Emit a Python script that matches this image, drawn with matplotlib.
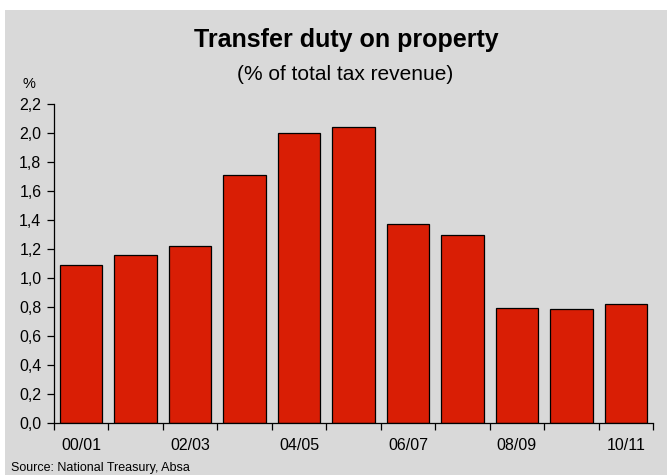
import matplotlib.pyplot as plt
import numpy as np
from matplotlib.patches import Rectangle
from matplotlib.ticker import FuncFormatter

plt.rcParams['font.family'] = ['Liberation Sans', 'DejaVu Sans']

years = ['00/01', '01/02', '02/03', '03/04', '04/05', '05/06',
         '06/07', '07/08', '08/09', '09/10', '10/11']
duty = [1.09, 1.16, 1.22, 1.71, 2.00, 2.04, 1.37, 1.30, 0.79, 0.785, 0.82]

W, H = 667, 475
fig = plt.figure(figsize=(W / 100, H / 100), dpi=100, facecolor='white')
fig.patches.append(Rectangle((5 / W, 0), 1, (H - 10) / H, transform=fig.transFigure,
                             facecolor='#d9d9d9', edgecolor='none', zorder=-10))

ax = fig.add_axes([54 / W, (H - 423) / H, (653 - 54) / W, (423 - 104) / H])
ax.set_facecolor('none')

x = np.arange(len(years))
ax.bar(x, duty, width=0.78, color='#d91e05', edgecolor='black', linewidth=0.9)

ax.set_xlim(-0.5, len(years) - 0.5)
ax.set_ylim(0, 2.2)
ax.set_yticks(np.arange(0, 2.21, 0.2))
ax.yaxis.set_major_formatter(FuncFormatter(lambda v, p: f'{v:.1f}'.replace('.', ',')))

ax.set_xticks(np.arange(-0.5, len(years), 1))
ax.set_xticklabels([])
ax.set_xticks(x[::2], minor=True)
ax.set_xticklabels(years[::2], minor=True)
ax.tick_params(axis='x', which='major', direction='out', length=5, width=0.9)
ax.tick_params(axis='x', which='minor', length=0, pad=11, labelsize=11.5)
ax.tick_params(axis='y', direction='out', length=5, width=0.9, labelsize=11.5, pad=4)

for s in ['top', 'right']:
    ax.spines[s].set_visible(False)
for s in ['left', 'bottom']:
    ax.spines[s].set_linewidth(0.9)

fig.text(346 / W, 1 - 40 / H, 'Transfer duty on property', ha='center', va='center',
         fontsize=18, fontweight='bold')
fig.text(345 / W, 1 - 74 / H, '(% of total tax revenue)', ha='center', va='center',
         fontsize=15)
fig.text(29 / W, 1 - 84 / H, '%', ha='center', va='center', fontsize=10.5)
fig.text(11 / W, 1 - 468 / H, 'Source: National Treasury, Absa', ha='left', va='center',
         fontsize=9)

fig.savefig('out.png', dpi=100, facecolor='white')
